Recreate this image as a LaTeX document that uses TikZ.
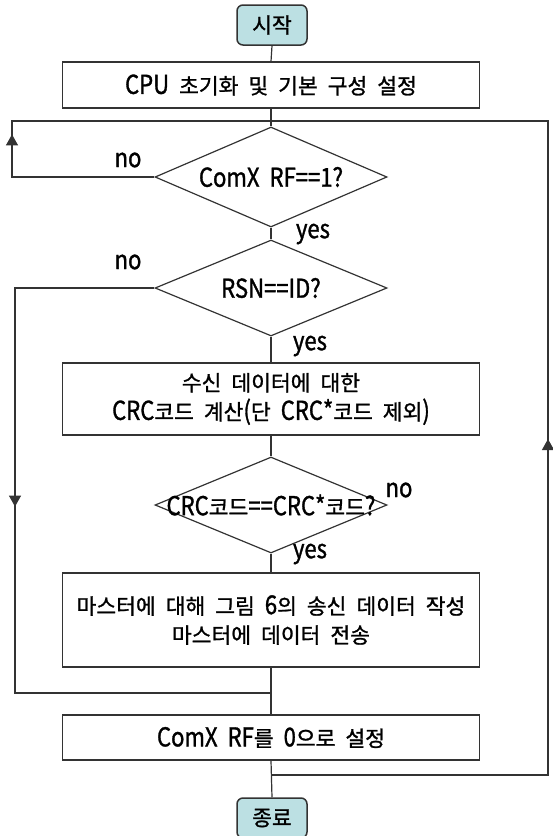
\documentclass[tikz,border=0pt]{standalone}
\usepackage{fontspec}
\usetikzlibrary{shapes.geometric,arrows.meta,decorations.markings}
\newfontfamily\kr[FakeBold=1.2]{Noto Sans CJK KR}
\newfontfamily\la[FakeStretch=0.85,FakeBold=1.2]{Noto Sans CJK KR}
\newcommand\latn[1]{{\la\fontsize{26}{30}\selectfont #1}}
\newcommand\krf{\kr\fontsize{21.5}{29}\selectfont\spaceskip=10pt plus 2pt\relax}
\newcommand\laf{\la\fontsize{26}{30}\selectfont}
\definecolor{ln}{HTML}{333333}
\definecolor{term}{HTML}{BCE0E3}
\tikzset{
  txt/.style={font=\krf, align=center},
  terminal/.style={txt, draw=ln, line width=1.5pt, fill=term, rounded corners=6pt, minimum width=70pt, minimum height=40pt, inner sep=0pt},
  procbox/.style={txt, draw=ln, line width=1.3pt, minimum width=417pt, inner sep=0pt},
  decision/.style={diamond, draw=ln, line width=1.2pt, minimum width=232pt, inner sep=0pt},
  lbl/.style={font=\laf, inner sep=0pt},
  conn/.style={draw=ln, line width=1.2pt},
  midarrow/.style={postaction={decorate}, decoration={markings, mark=at position #1 with {\arrow{Triangle[width=12pt,length=11pt]}}}}
}
\begin{document}
\begin{tikzpicture}[x=1pt,y=-1pt]
\useasboundingbox (0,0) rectangle (553,836);
\node[terminal] (start) at (272,25) {시작};
\node[procbox, minimum height=46pt] (cpu) at (271,85) {\latn{CPU} 초기화 및 기본 구성 설정};
\node[decision, minimum height=100pt, label={[txt]center:\latn{ComX RF==1?}}] (d1) at (271,177) {};
\node[decision, minimum height=96pt, label={[txt]center:\latn{RSN==ID?}}] (d2) at (271,288) {};
\node[procbox, minimum height=72pt] (b3) at (271,399) {수신 데이터에 대한\\\latn{CRC}코드 계산\latn{(}단 \latn{CRC*}코드 제외\latn{)}};
\node[decision, minimum height=96pt, label={[txt]center:\latn{CRC}코드\latn{==CRC*}코드\latn{?}}] (d3) at (271,505) {};
\node[procbox, minimum height=94pt] (b4) at (271,620) {마스터에 대해 그림 \latn{6}의 송신 데이터 작성\\마스터에 데이터 전송};
\node[procbox, minimum height=45pt] (b5) at (271,737.5) {\latn{ComX RF}를 \latn{0}으로 설정};
\node[terminal] (end) at (272,818) {종료};

\coordinate (j1) at (271,121);
\coordinate (j2) at (271,693);
\coordinate (j3) at (271,775);
\coordinate (lx1) at (12,121);
\coordinate (lx2) at (15,693);
\coordinate (rx) at (548,121);

\path[conn] (start.south) -- (cpu.north);
\path[conn] (cpu.south) -- (d1.north);
\path[conn] (d1.south) -- (d2.north);
\path[conn] (d2.south) -- (b3.north);
\path[conn] (b3.south) -- (d3.north);
\path[conn] (d3.south) -- (b4.north);
\path[conn] (b4.south) -- (b5.north);
\path[conn] (b5.south) -- (end.north);
\path[conn, midarrow=185pt] (d1.west) -| (lx1) -- (j1);
\path[conn, midarrow=358pt] (d2.west) -| (lx2) -- (j2);
\path[conn, midarrow=613pt] (j3) -| (rx) -- (j1);

\node[lbl] (no1) at (128,160) {no};
\node[lbl] (yes1) at (313,234) {yes};
\node[lbl] (no2) at (128,262) {no};
\node[lbl] (yes2) at (310,346) {yes};
\node[lbl] (no3) at (399,490) {no};
\node[lbl] (yes3) at (310,554) {yes};
\end{tikzpicture}
\end{document}
